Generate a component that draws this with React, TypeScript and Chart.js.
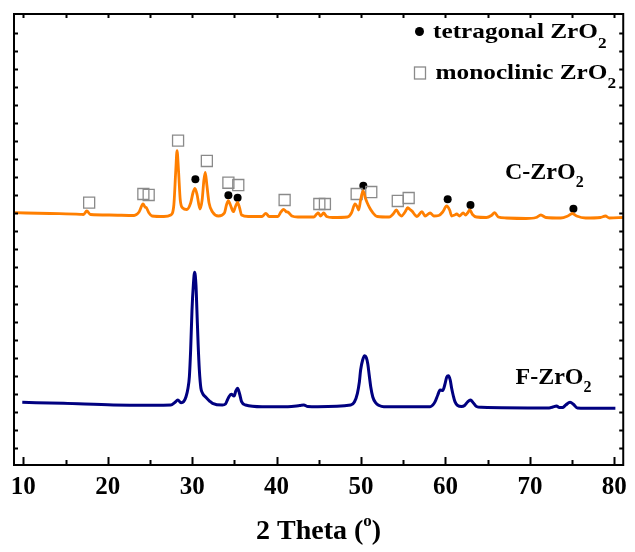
import { useEffect, useRef } from 'react';
import { Chart, registerables } from 'chart.js';

Chart.register(...registerables);

// ---- Data (2θ in degrees, intensity in arbitrary offset units) ----
const cTheta = [8.91, 13.14, 16.74, 17.13, 17.52, 17.96, 20.19, 23.13, 23.71, 24.18, 24.42, 24.57, 24.89, 25.24, 26.65, 27.47, 27.83, 28.06, 28.21, 28.38, 28.59, 28.88, 29.35, 29.82, 30.12, 30.33, 30.59, 30.92, 31.18, 31.39, 31.55, 31.74, 32.0, 32.41, 33.11, 33.82, 34.06, 34.29, 34.53, 34.88, 35.15, 35.38, 35.62, 35.85, 36.64, 38.29, 38.72, 39.11, 40.16, 40.52, 40.83, 41.1, 41.4, 41.81, 42.51, 44.39, 44.75, 44.92, 45.22, 45.57, 45.92, 46.63, 48.39, 48.86, 49.29, 49.56, 49.72, 49.95, 50.24, 50.51, 50.74, 51.03, 51.33, 51.92, 53.33, 53.8, 54.18, 54.5, 54.77, 55.21, 55.53, 55.8, 56.03, 56.39, 56.62, 57.21, 57.59, 58.18, 58.61, 59.2, 59.67, 60.14, 60.49, 60.73, 61.08, 61.32, 61.67, 62.1, 62.38, 62.61, 62.88, 63.2, 63.67, 64.84, 65.43, 65.82, 66.25, 67.19, 69.54, 70.72, 71.3, 71.89, 73.65, 74.48, 75.03, 75.53, 76.59, 78.35, 78.94, 79.41, 81.06];
const cIntensity = [55.94, 55.76, 55.59, 55.54, 56.32, 55.54, 55.43, 55.32, 56.1, 57.87, 57.21, 57.05, 55.88, 55.21, 55.1, 55.43, 57.65, 65.41, 69.69, 65.41, 58.76, 56.98, 56.65, 58.09, 60.53, 61.35, 59.87, 56.76, 58.76, 63.19, 64.9, 62.08, 58.09, 56.1, 55.21, 55.88, 57.65, 58.6, 57.65, 56.16, 57.43, 58.25, 56.98, 55.43, 55.1, 55.1, 55.81, 55.1, 55.1, 56.1, 56.7, 56.21, 55.99, 55.21, 54.99, 54.99, 55.65, 55.88, 55.21, 55.88, 55.1, 54.88, 54.99, 55.88, 57.87, 57.21, 56.54, 58.76, 60.75, 59.2, 58.09, 56.98, 56.1, 55.1, 54.99, 55.65, 56.54, 55.65, 55.21, 56.1, 57.05, 56.65, 56.32, 55.43, 55.1, 56.16, 55.21, 55.88, 55.21, 55.32, 56.1, 57.43, 56.54, 55.21, 55.43, 55.65, 55.21, 55.88, 55.43, 55.88, 56.54, 55.54, 54.99, 54.88, 55.32, 55.94, 54.99, 54.77, 54.66, 54.88, 55.43, 54.88, 54.77, 55.21, 55.76, 55.21, 54.77, 54.88, 55.21, 54.77, 54.88];

const fTheta = [9.88, 14.78, 20.66, 25.36, 27.47, 27.94, 28.3, 28.68, 29.0, 29.27, 29.51, 29.67, 29.82, 29.98, 30.14, 30.29, 30.45, 30.56, 30.71, 30.85, 31.03, 31.23, 31.62, 32.06, 32.41, 33.58, 33.94, 34.17, 34.41, 34.64, 34.96, 35.17, 35.38, 35.62, 35.85, 36.32, 38.28, 41.34, 42.75, 43.22, 43.69, 44.87, 48.78, 49.21, 49.57, 49.8, 49.95, 50.19, 50.43, 50.62, 50.8, 50.98, 51.15, 51.39, 51.72, 52.15, 52.7, 58.18, 58.5, 58.77, 59.09, 59.36, 59.68, 59.91, 60.15, 60.34, 60.56, 60.73, 60.93, 61.12, 61.44, 61.9, 62.26, 62.61, 62.96, 63.31, 63.67, 64.25, 72.28, 72.71, 73.15, 73.48, 73.85, 74.24, 74.75, 75.18, 75.62, 77.77, 80.12];
const fIntensity = [13.9, 13.68, 13.3, 13.24, 13.3, 13.86, 14.41, 13.81, 14.08, 15.14, 17.07, 19.58, 25.5, 34.37, 39.91, 42.73, 39.91, 34.37, 26.61, 21.06, 17.07, 15.9, 15.01, 14.19, 13.68, 13.3, 13.53, 14.41, 15.3, 15.68, 15.3, 16.41, 17.01, 15.74, 14.04, 13.3, 12.93, 12.93, 13.19, 13.3, 12.97, 12.93, 13.3, 13.97, 15.9, 18.4, 21.06, 23.28, 24.24, 23.84, 22.39, 19.73, 17.29, 15.08, 13.81, 13.19, 12.93, 12.93, 13.3, 14.04, 15.52, 16.63, 16.52, 17.74, 19.51, 19.8, 18.85, 17.01, 15.3, 14.04, 13.19, 12.97, 13.19, 13.97, 14.41, 13.75, 12.97, 12.79, 12.64, 12.86, 13.08, 12.75, 12.75, 13.3, 13.9, 13.41, 12.64, 12.57, 12.57];

const monoTheta = [17.8, 24.22, 24.85, 28.33, 31.74, 34.29, 35.46, 40.95, 45.06, 45.72, 49.48, 51.21, 54.35, 55.64];
const monoY = [58.16, 60.09, 59.87, 71.91, 67.41, 62.59, 62.08, 58.76, 57.87, 57.87, 60.09, 60.53, 58.54, 59.2];
const tetraTheta = [30.38, 34.29, 35.38, 50.27, 60.26, 62.96, 75.15];
const tetraY = [63.35, 59.8, 59.27, 61.93, 58.91, 57.65, 56.83];

const xMajorTicks = [10, 20, 30, 40, 50, 60, 70, 80];
const xMinorTicks = [15, 25, 35, 45, 55, 65, 75];
const yTickValues = [3.8, 7.8, 11.8, 15.8, 19.8, 23.8, 27.8, 31.8, 35.8, 39.8, 43.8, 47.8, 51.8, 55.8, 59.8, 63.8, 67.8, 71.8, 75.8, 79.8, 83.8, 87.8, 91.8, 95.8];

const xTitle = '2 Theta (';
const xTitleSup = 'o';
const cLabel = 'C-ZrO';
const fLabel = 'F-ZrO';
const legendTetra = 'tetragonal ZrO';
const legendMono = 'monoclinic ZrO';
const sub2 = '2';

const ORANGE = '#FF7F00';
const NAVY = '#000080';
const FONT = '"Liberation Serif", "Times New Roman", serif';

type Seg = { text: string; mode: 'n' | 'sub' | 'sup' };

function drawRich(
  ctx: CanvasRenderingContext2D,
  segs: Seg[],
  x: number,
  y: number,
  size: number,
  opts: { align?: 'left' | 'center'; width?: number; subScale?: number; subOff?: number } = {}
) {
  const align = opts.align || 'left';
  const subScale = opts.subScale || 0.66;
  const subOff = opts.subOff ?? 0.38;
  const fontFor = (m: string) => `bold ${m === 'n' ? size : Math.round(size * subScale)}px ${FONT}`;
  ctx.font = fontFor('n');
  const mainW = ctx.measureText(segs[0].text).width;
  const sx = opts.width ? opts.width / mainW : 1;
  let w = 0;
  for (const s of segs) {
    ctx.font = fontFor(s.mode);
    w += ctx.measureText(s.text).width;
  }
  ctx.save();
  ctx.translate(x, y);
  ctx.scale(sx, 1);
  let cx = align === 'center' ? -w / 2 : 0;
  ctx.textBaseline = 'alphabetic';
  ctx.textAlign = 'left';
  ctx.fillStyle = '#000';
  for (const s of segs) {
    ctx.font = fontFor(s.mode);
    const dy = s.mode === 'sub' ? size * subOff : s.mode === 'sup' ? -size * 0.45 : 0;
    ctx.fillText(s.text, cx, dy);
    cx += ctx.measureText(s.text).width;
  }
  ctx.restore();
}

const decorPlugin = {
  id: 'decor',
  afterDraw(chart: any) {
    const { ctx, chartArea: a, scales } = chart;
    const x = scales.x;
    const y = scales.y;
    ctx.save();
    // frame
    ctx.strokeStyle = '#000';
    ctx.lineWidth = 2;
    ctx.strokeRect(a.left, a.top, a.right - a.left, a.bottom - a.top);
    // ticks (inward)
    ctx.beginPath();
    for (const v of xMajorTicks) {
      const px = Math.round(x.getPixelForValue(v)) + 0.5;
      ctx.moveTo(px, a.bottom);
      ctx.lineTo(px, a.bottom - 8);
      ctx.moveTo(px, a.top);
      ctx.lineTo(px, a.top + 4);
    }
    for (const v of xMinorTicks) {
      const px = Math.round(x.getPixelForValue(v)) + 0.5;
      ctx.moveTo(px, a.bottom);
      ctx.lineTo(px, a.bottom - 5);
      ctx.moveTo(px, a.top);
      ctx.lineTo(px, a.top + 4);
    }
    for (const v of yTickValues) {
      const py = Math.round(y.getPixelForValue(v)) + 0.5;
      ctx.moveTo(a.left, py);
      ctx.lineTo(a.left + 4, py);
      ctx.moveTo(a.right, py);
      ctx.lineTo(a.right - 4, py);
    }
    ctx.stroke();

    // legend
    ctx.fillStyle = '#000';
    ctx.beginPath();
    ctx.arc(419.5, 31.5, 4.5, 0, Math.PI * 2);
    ctx.fill();
    ctx.strokeStyle = '#8a8a8a';
    ctx.lineWidth = 1.3;
    ctx.strokeRect(414.5, 67, 11, 12);
    drawRich(ctx, [{ text: legendTetra, mode: 'n' }, { text: sub2, mode: 'sub' }], 433, 37.7, 22, {
      width: 165,
      subScale: 0.7,
      subOff: 0.45,
    });
    drawRich(ctx, [{ text: legendMono, mode: 'n' }, { text: sub2, mode: 'sub' }], 435.5, 78.5, 22, {
      width: 172,
      subScale: 0.7,
      subOff: 0.45,
    });

    // series labels
    drawRich(ctx, [{ text: cLabel, mode: 'n' }, { text: sub2, mode: 'sub' }], 505, 179, 24, { subScale: 0.66, subOff: 0.35 });
    drawRich(ctx, [{ text: fLabel, mode: 'n' }, { text: sub2, mode: 'sub' }], 515.5, 384, 24, { subScale: 0.66, subOff: 0.35 });

    // axis title
    drawRich(
      ctx,
      [
        { text: xTitle, mode: 'n' },
        { text: xTitleSup, mode: 'sup' },
        { text: ')', mode: 'n' },
      ],
      (a.left + a.right) / 2,
      539,
      28,
      { align: 'center', subScale: 0.6 }
    );
    ctx.restore();
  },
};

export default function App() {
  const ref = useRef<HTMLCanvasElement>(null);
  useEffect(() => {
    const canvas = ref.current;
    if (!canvas) return;
    const chart = new Chart(canvas, {
      type: 'scatter',
      data: {
        datasets: [
          {
            label: 'C-ZrO2',
            data: cTheta.map((t, i) => ({ x: t, y: cIntensity[i] })),
            showLine: true,
            borderColor: ORANGE,
            backgroundColor: ORANGE,
            borderWidth: 2.8,
            pointRadius: 0,
            cubicInterpolationMode: 'monotone',
          },
          {
            label: 'F-ZrO2',
            data: fTheta.map((t, i) => ({ x: t, y: fIntensity[i] })),
            showLine: true,
            borderColor: NAVY,
            backgroundColor: NAVY,
            borderWidth: 3,
            pointRadius: 0,
            cubicInterpolationMode: 'monotone',
          },
          {
            label: 'monoclinic',
            data: monoTheta.map((t, i) => ({ x: t, y: monoY[i] })),
            showLine: false,
            pointStyle: 'rect',
            pointRadius: 7.8,
            borderColor: '#8a8a8a',
            borderWidth: 1.3,
            backgroundColor: 'rgba(255,255,255,0)',
          },
          {
            label: 'tetragonal',
            data: tetraTheta.map((t, i) => ({ x: t, y: tetraY[i] })),
            showLine: false,
            pointStyle: 'circle',
            pointRadius: 4,
            borderWidth: 0,
            backgroundColor: '#000',
          },
        ],
      } as any,
      options: {
        animation: false,
        responsive: false,
        events: [],
        layout: { padding: { left: 14, right: 7, top: 14, bottom: 0 } },
        plugins: { legend: { display: false }, tooltip: { enabled: false } },
        scales: {
          x: {
            type: 'linear',
            min: 8.9,
            max: 81.05,
            grid: { display: false, drawTicks: false },
            border: { display: false },
            ticks: {
              padding: 8,
              autoSkip: false,
              maxRotation: 0,
              color: '#000',
              font: { family: FONT, weight: 'bold', size: 25 },
            },
            afterBuildTicks: (s: any) => {
              s.ticks = xMajorTicks.map((v) => ({ value: v }));
            },
            afterFit: (s: any) => {
              s.height = 87;
            },
          },
          y: {
            type: 'linear',
            display: false,
            min: 0,
            max: 100,
          },
        },
      } as any,
      plugins: [decorPlugin],
    });
    return () => chart.destroy();
  }, []);
  return (
    <div style={{ position: 'fixed', left: 0, top: 0, width: 635, height: 552, background: '#fff' }}>
      <canvas ref={ref} width={635} height={552} style={{ display: 'block' }} />
    </div>
  );
}
